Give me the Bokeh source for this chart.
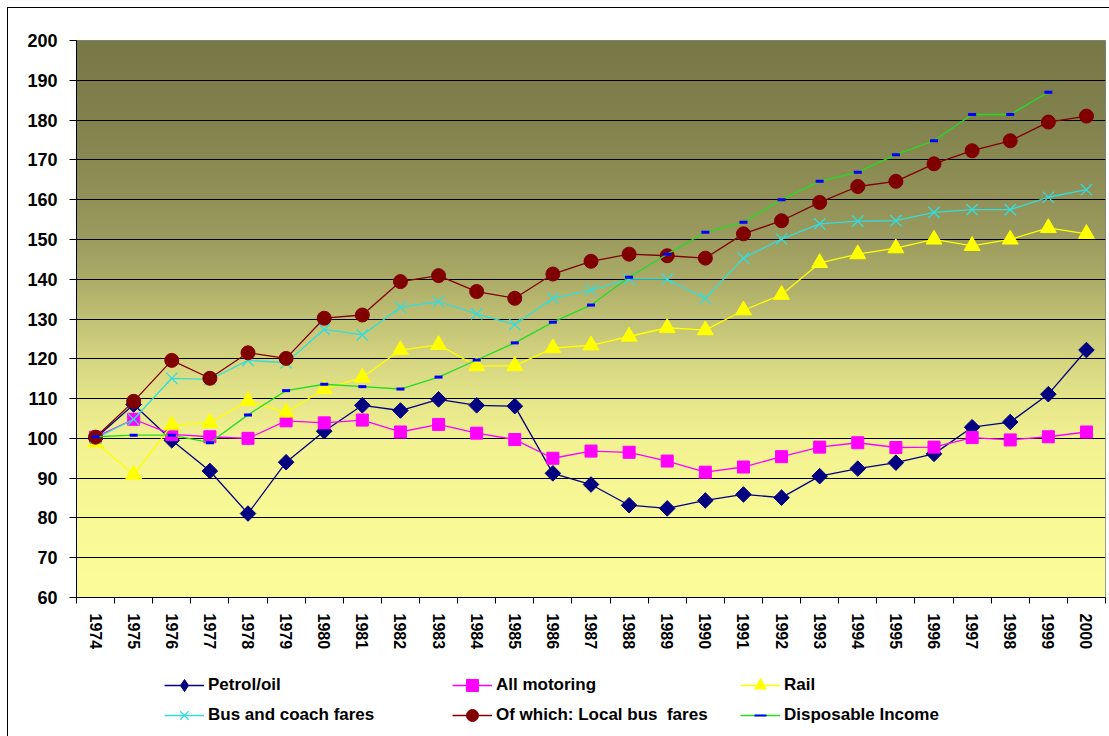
import numpy as np
from bokeh.plotting import figure
from bokeh.layouts import column
from bokeh.models import Range1d, FixedTicker, Legend, LegendItem, LinearAxis, Grid
from bokeh.embed import file_html
from bokeh.resources import INLINE

NAN = float("nan")

YEARS = ["1974", "1975", "1976", "1977", "1978", "1979", "1980", "1981", "1982",
         "1983", "1984", "1985", "1986", "1987", "1988", "1989", "1990", "1991",
         "1992", "1993", "1994", "1995", "1996", "1997", "1998", "1999", "2000"]

PETROL = [100.0, 108.5, 99.5, 91.8, 81.1, 94.0, 101.8, 108.3, 107.0, 109.8, 108.3, 108.1,
          91.2, 88.4, 83.2, 82.4, 84.4, 85.9, 85.1, 90.5, 92.4, 93.9, 96.1, 102.8, 104.1,
          111.1, 122.2]
MOTORING = [100.3, 104.8, 101.0, 100.4, 100.0, 104.4, 103.9, 104.6, 101.6, 103.5, 101.3,
            99.7, 95.0, 96.8, 96.5, 94.3, 91.5, 92.8, 95.4, 97.8, 98.9, 97.7, 97.8, 100.2,
            99.6, 100.4, 101.6]
RAIL = [99.0, 90.9, 103.3, 103.9, 109.4, 106.5, 112.4, 115.3, 122.2, 123.5, 118.2, 118.2,
        122.7, 123.4, 125.6, 127.8, 127.2, 132.2, 136.1, 144.1, 146.3, 147.8, 150.0, 148.4,
        150.0, 152.9, 151.4]
BUS = [100.0, 104.8, 115.1, 114.8, 119.6, 119.0, 127.4, 126.0, 132.9, 134.4, 131.3, 128.6,
       135.2, 137.3, 140.0, 140.0, 135.2, 145.3, 150.1, 153.9, 154.6, 154.7, 156.8, 157.5,
       157.5, 160.6, 162.5]
LOCAL_BUS = [100.3, 109.3, 119.6, 115.1, 121.5, 120.1, 130.2, 131.0, 139.4, 140.9, 136.9,
             135.2, 141.3, 144.5, 146.3, 145.9, 145.3, 151.4, 154.7, 159.3, 163.3, 164.6,
             169.0, 172.3, 174.8, 179.5, 181.0]
INCOME = [100.4, 100.8, 100.8, 98.9, 105.9, 112.0, 113.6, 113.0, 112.4, 115.4, 119.7, 124.0,
          129.2, 133.5, 140.5, 146.3, 151.8, 154.3, 160.0, 164.6, 166.9, 171.3, 174.8,
          181.4, 181.4, 187.0, NAN]

Y_MIN, Y_MAX = 60, 200
Y_TICKS = [60, 70, 80, 90, 100, 110, 120, 130, 140, 150, 160, 170, 180, 190, 200]

FONT = "Liberation Sans"

n = len(YEARS)
xs = list(range(n))

p = figure(width=1109, height=660, output_backend="svg", toolbar_location=None,
           x_range=Range1d(-0.5, n - 0.5), y_range=Range1d(Y_MIN, Y_MAX),
           x_axis_type=None, y_axis_type=None,
           min_border_left=76, min_border_right=4, min_border_top=40, min_border_bottom=63)
p.outline_line_color = "#808080"
p.background_fill_color = "#f8f896"
p.border_fill_alpha = 0

# background gradient (styling only)
stops_v = [60, 80, 100, 110, 120, 130, 140, 150, 165, 180, 200]
stops_c = [(252, 252, 154), (249, 249, 150), (242, 242, 146), (229, 229, 138),
           (213, 213, 129), (193, 193, 117), (172, 172, 104), (156, 156, 95),
           (141, 141, 85), (130, 130, 78), (120, 120, 72)]
vals = np.linspace(Y_MIN, Y_MAX, 560)
img = np.empty((len(vals), 1), dtype=np.uint32)
view = img.view(dtype=np.uint8).reshape((len(vals), 1, 4))
for ch in range(3):
    view[:, 0, ch] = np.interp(vals, stops_v, [c[ch] for c in stops_c]).astype(np.uint8)
view[:, 0, 3] = 255
p.image_rgba(image=[img], x=-0.5, y=Y_MIN, dw=n, dh=Y_MAX - Y_MIN, level="image")

# axes
xaxis = LinearAxis(ticker=FixedTicker(ticks=xs, minor_ticks=[i - 0.5 for i in range(n + 1)]),
                   major_label_overrides={i: y for i, y in enumerate(YEARS)})
xaxis.major_tick_out = 0
xaxis.major_tick_in = 0
xaxis.minor_tick_out = 6
xaxis.minor_tick_in = 0
xaxis.minor_tick_line_color = "black"
xaxis.axis_line_color = "black"
xaxis.major_label_orientation = "vertical"
xaxis.major_label_standoff = 10
xaxis.major_label_text_font = FONT
xaxis.major_label_text_font_style = "bold"
xaxis.major_label_text_font_size = "16px"
xaxis.major_label_text_color = "black"
p.add_layout(xaxis, "below")

yaxis = LinearAxis(ticker=FixedTicker(ticks=Y_TICKS, minor_ticks=[]))
yaxis.major_tick_out = 7
yaxis.major_tick_in = 0
yaxis.minor_tick_out = 0
yaxis.minor_tick_in = 0
yaxis.axis_line_color = "black"
yaxis.major_tick_line_color = "black"
yaxis.major_label_standoff = 12
yaxis.major_label_text_font = FONT
yaxis.major_label_text_font_style = "bold"
yaxis.major_label_text_font_size = "18px"
yaxis.major_label_text_color = "black"
p.add_layout(yaxis, "left")

p.add_layout(Grid(dimension=1, ticker=yaxis.ticker, grid_line_color="black",
                  grid_line_width=1))

# series
series = [
    ("Petrol/oil", PETROL, "#000080", dict(marker="square", size=11, angle=np.pi / 4,
                                           fill_color="#000080", line_color="#000080")),
    ("All motoring", MOTORING, "#FF00FF", dict(marker="square", size=12,
                                               fill_color="#FF00FF", line_color="#FF00FF")),
    ("Rail", RAIL, "#FFFF00", dict(marker="triangle", size=16,
                                   fill_color="#FFFF00", line_color="#FFFF00")),
    ("Bus and coach fares", BUS, "#33DDDD", dict(marker="x", size=16, line_width=1.3,
                                                 line_color="#33DDDD")),
    ("Of which: Local bus  fares", LOCAL_BUS, "#800000",
     dict(marker="circle", size=14, fill_color="#800000", line_color="#800000")),
    ("Disposable Income", INCOME, "#22DD22", dict(marker="dash", size=8, line_width=3,
                                                  line_color="#0000FF")),
]

for name, vals_, color, mk in series:
    p.line(xs, vals_, line_color=color, line_width=1.3)
    p.scatter(xs, vals_, **mk)

# legend strip below the chart (its own renderers lie outside its visible ranges)
lf = figure(width=1109, height=76, output_backend="svg", toolbar_location=None,
            x_range=Range1d(0, 1), y_range=Range1d(0, 1),
            x_axis_type=None, y_axis_type=None, min_border=0)
lf.outline_line_color = None
lf.background_fill_alpha = 0
lf.border_fill_alpha = 0
lf.grid.visible = False

items = []
for name, vals_, color, mk in series:
    lk = dict(mk)
    if lk["marker"] == "dash":
        lk["line_width"] = 2
    if lk.get("angle") is not None:
        lk.pop("angle")
        lk["marker"] = "diamond"
    r_line = lf.line(xs, vals_, line_color=color, line_width=1.5)
    r_pts = lf.scatter(xs, vals_, **lk)
    items.append(LegendItem(label=name, renderers=[r_line, r_pts]))

cols = [[items[0], items[3]], [items[1], items[4]], [items[2], items[5]]]
for ci, col_items in enumerate(cols):
    lg = Legend(items=col_items, location=(88 + ci * 288, 6), orientation="vertical",
                glyph_width=40, glyph_height=30, label_height=20, label_standoff=4,
                spacing=0, padding=0, margin=0, border_line_alpha=0,
                background_fill_alpha=0,
                label_text_font=FONT, label_text_font_style="bold",
                label_text_font_size="17px", label_text_color="black")
    lf.add_layout(lg, "center")

layout = column(p, lf, spacing=0)
layout.styles = {
    "background-color": "white",
    "background-image": "linear-gradient(#000,#000), linear-gradient(#000,#000)",
    "background-size": "1px calc(100% - 7px), calc(100% - 7px) 1px",
    "background-position": "7px 7px, 7px 7px",
    "background-repeat": "no-repeat",
}

open("out.html", "w").write(file_html(layout, INLINE))
